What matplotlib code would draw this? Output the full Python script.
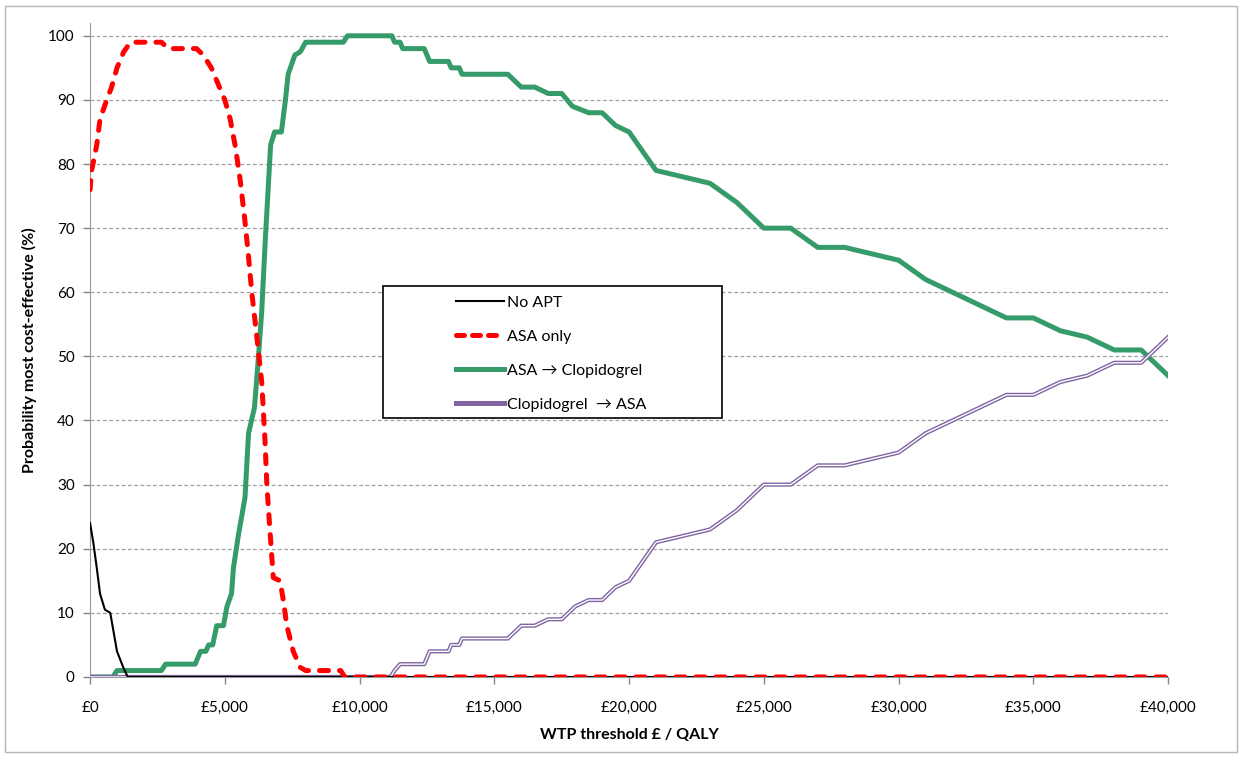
import matplotlib
matplotlib.use('Agg')
import matplotlib.pyplot as plt
from matplotlib.patches import Rectangle
from matplotlib.lines import Line2D

plt.rcParams['font.family'] = ['Lato', 'DejaVu Sans']

# WTP threshold (GBP) and probability (%) for each strategy
no_apt_x = [0, 120, 250, 370, 550, 750, 1000, 1250, 1400, 40000]
no_apt_y = [24, 21, 17, 13, 10.5, 10, 4, 1.3, 0, 0]

asa_x = [0, 60, 250, 370, 620, 800, 1000, 1250, 1500, 2650, 2900, 3950, 4200,
         4500, 4750, 5000, 5200, 5400, 5570, 5750, 5870, 6000, 6190, 6370,
         6490, 6560, 6680, 6800, 7050, 7170, 7300, 7540, 7800, 8000, 9300,
         9450, 40000]
asa_y = [76, 79, 83, 87, 90, 92, 95, 97.5, 99, 99, 98, 98, 97, 95, 92.5, 90,
         87, 82.5, 77.5, 71, 66, 60, 53, 46, 37, 30, 22.5, 15.5, 15, 12, 8, 4,
         1.5, 1, 1, 0, 0]

asa_clop_x = [0, 850, 1000, 2650, 2800, 3900, 4100, 4300, 4400, 4550, 4700,
              4950, 5080, 5250, 5320, 5500, 5750, 5880, 6100, 6250, 6370, 6500,
              6700, 6850, 7100, 7250, 7350, 7600, 7800, 8000, 9400, 9550,
              11200, 11300, 11500, 11600, 12400, 12600, 13300, 13400, 13700,
              13800, 15500, 16000, 16500, 17000, 17500, 17900, 18500, 19000,
              19500, 20000, 21000, 22000, 23000, 24000, 25000, 26000, 27000,
              28000, 29000, 30000, 31000, 32000, 33000, 34000, 35000, 36000,
              37000, 38000, 39000, 40000]
asa_clop_y = [0, 0, 1, 1, 2, 2, 4, 4, 5, 5, 8, 8, 11, 13, 17, 22, 28, 38, 42,
              50, 57, 68, 83, 85, 85, 90, 94, 97, 97.5, 99, 99, 100, 100, 99,
              99, 98, 98, 96, 96, 95, 95, 94, 94, 92, 92, 91, 91, 89, 88, 88,
              86, 85, 79, 78, 77, 74, 70, 70, 67, 67, 66, 65, 62, 60, 58, 56,
              56, 54, 53, 51, 51, 47]

clop_asa_x = [0, 11150, 11300, 11500, 12400, 12600, 13300, 13400, 13700,
              13800, 15500, 16000, 16500, 17000, 17500, 18000, 18500, 19000,
              19500, 20000, 21000, 22000, 23000, 24000, 25000, 26000, 27000,
              28000, 29000, 30000, 31000, 32000, 33000, 34000, 35000, 36000,
              37000, 38000, 39000, 40000]
clop_asa_y = [0, 0, 1, 2, 2, 4, 4, 5, 5, 6, 6, 8, 8, 9, 9, 11, 12, 12, 14, 15,
              21, 22, 23, 26, 30, 30, 33, 33, 34, 35, 38, 40, 42, 44, 44, 46,
              47, 49, 49, 53]

series_labels = ['No APT', 'ASA only', 'ASA \u2192 Clopidogrel',
                 'Clopidogrel  \u2192 ASA']
x_ticks = [0, 5000, 10000, 15000, 20000, 25000, 30000, 35000, 40000]
x_tick_labels = ['£0', '£5,000', '£10,000', '£15,000', '£20,000', '£25,000',
                 '£30,000', '£35,000', '£40,000']
y_ticks = list(range(0, 101, 10))

GREEN = '#359b69'
RED = '#ff0000'
PURPLE = '#8064a2'

fig = plt.figure(figsize=(12.42, 7.58), dpi=100)
ax = fig.add_axes([0.0725, 0.1069, 0.868, 0.8628])

# dashed horizontal gridlines
for yv in y_ticks[1:]:
    ax.axhline(yv, color='#a0a0a0', lw=0.9, ls=(0, (3, 2)), zorder=0)

ax.plot(asa_clop_x, asa_clop_y, color=GREEN, lw=3.6, zorder=4,
        solid_joinstyle='round')
# purple compound (double) line
ax.plot(clop_asa_x, clop_asa_y, color=PURPLE, lw=3.0, zorder=5)
ax.plot(clop_asa_x, clop_asa_y, color='white', lw=1.0, zorder=5)
ax.plot(no_apt_x, no_apt_y, color='black', lw=1.5, zorder=5.5)
ax.plot(asa_x, asa_y, color=RED, lw=3.6, ls=(0, (1.8, 2.2)),
        dash_capstyle='round', zorder=6)

ax.set_xlim(0, 40000)
ax.set_ylim(0, 102)
ax.set_xticks(x_ticks)
ax.set_xticklabels(x_tick_labels, fontsize=11)
ax.set_yticks(y_ticks)
ax.set_yticklabels([str(v) for v in y_ticks], fontsize=11)
ax.tick_params(axis='both', colors='#888888', labelcolor='black', length=5,
               width=1)
ax.tick_params(axis='x', pad=12)
ax.tick_params(axis='y', pad=6)

for s in ['top', 'right']:
    ax.spines[s].set_visible(False)
ax.spines['left'].set_color('#999999')
ax.spines['bottom'].set_color('#999999')

ax.set_xlabel('WTP threshold £ / QALY', fontsize=11.5, fontweight='bold',
              labelpad=10)
ax.set_ylabel('Probability most cost-effective (%)', fontsize=11.5,
              fontweight='bold', labelpad=8)

# legend: handles in the middle of a wide box
handles = [
    Line2D([], [], color='black', lw=1.5),
    Line2D([], [], color=RED, lw=3.6, ls=(0, (1.6, 1.6)), dash_capstyle='round'),
    Line2D([], [], color=GREEN, lw=3.6),
    Line2D([], [], color=PURPLE, lw=3.6),
]
leg = ax.legend(handles, series_labels, loc='upper left', frameon=False,
                fontsize=11.5, handlelength=3.0, handletextpad=0.15,
                labelspacing=1.25)
leg.set_bbox_to_anchor((352 / 1078, (677 - 281) / 654.0), transform=ax.transAxes)
leg.set_zorder(10)
box = Rectangle(((383 - 90) / 1078, (677 - 418) / 654.0),
                (722 - 383) / 1078, (418 - 286) / 654.0,
                transform=ax.transAxes, facecolor='white', edgecolor='black',
                lw=1.2, zorder=9)
ax.add_patch(box)

# outer chart border
fig.patches.append(Rectangle((0.004, 0.008), 0.992, 0.984,
                             transform=fig.transFigure, fill=False,
                             edgecolor='#b5b5b5', lw=1))

fig.savefig('out.png', dpi=100)
